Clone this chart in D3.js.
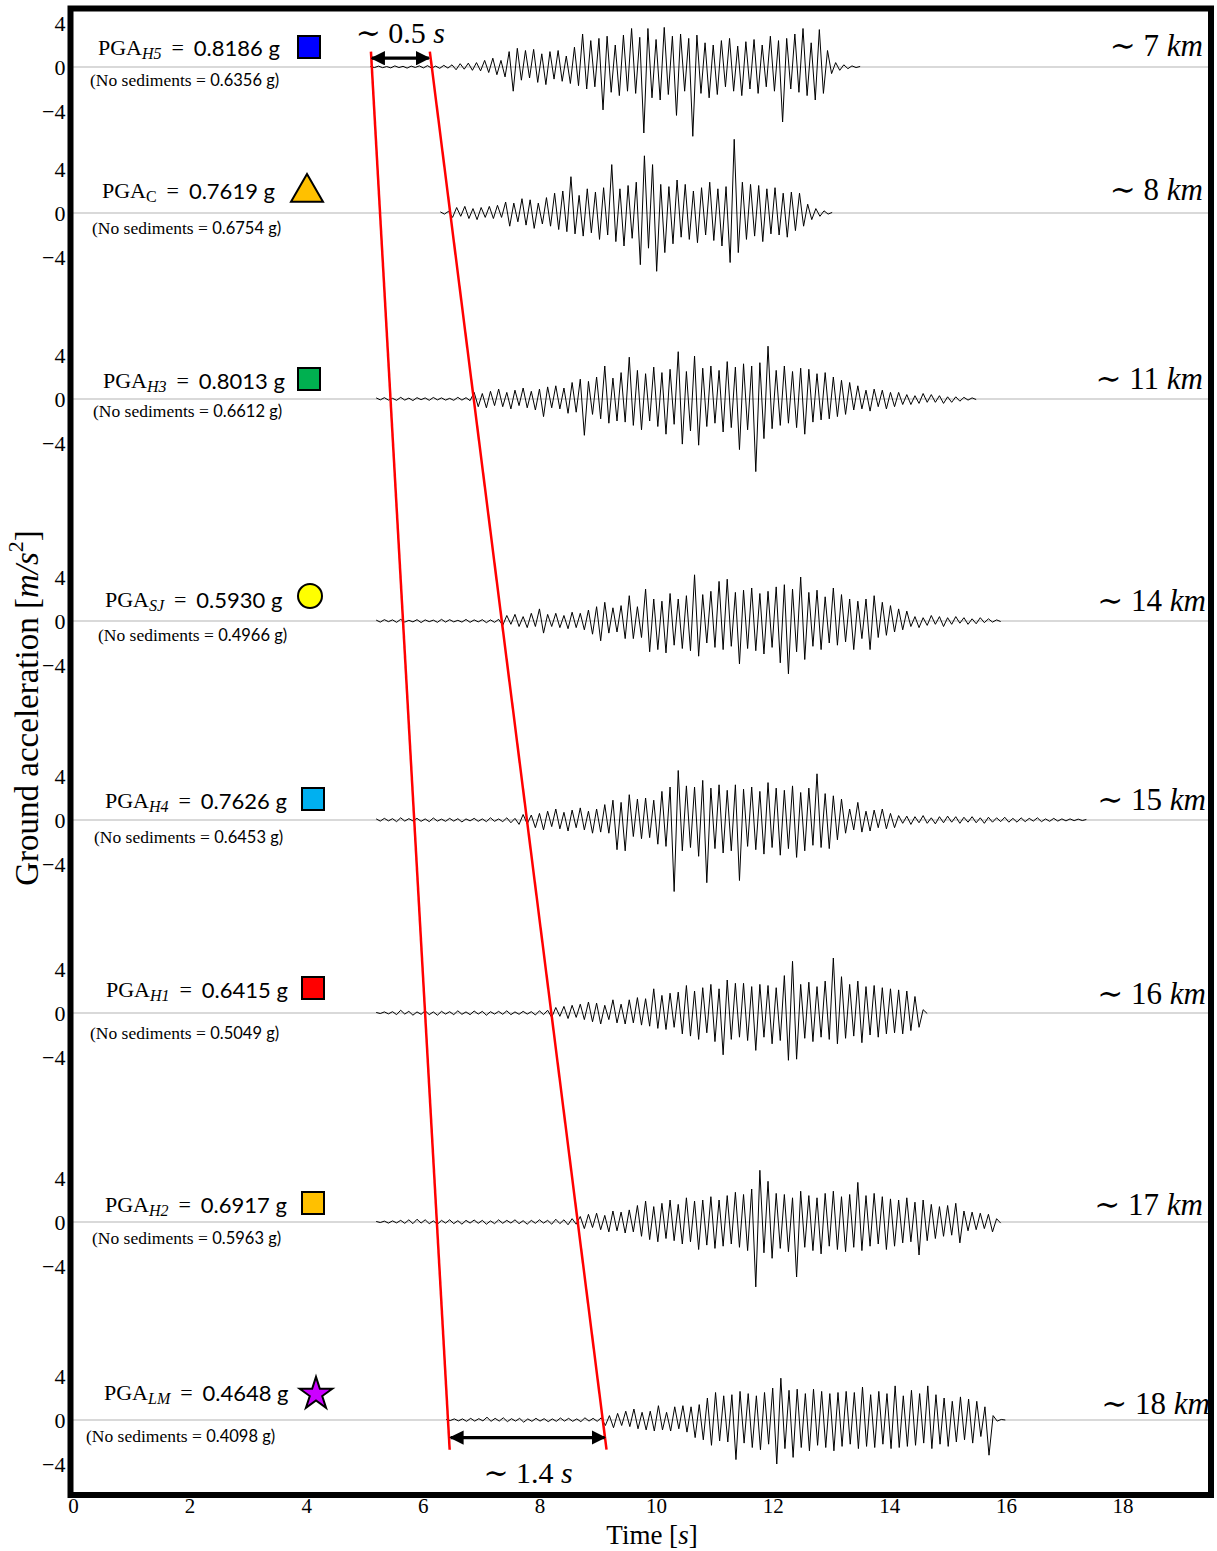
<!DOCTYPE html>
<html>
<head>
<meta charset="utf-8">
<script src="https://cdn.jsdelivr.net/npm/d3@7"></script>
<style>
  body { margin: 0; background: #fff; }
</style>
</head>
<body>
<svg width="1217" height="1551"></svg>
<script>
// ---- data ----
var stations = ["H5", "C", "H3", "SJ", "H4", "H1", "H2", "LM"];
var pga = ["0.8186", "0.7619", "0.8013", "0.5930", "0.7626", "0.6415", "0.6917", "0.4648"];
var pgaNoSed = ["0.6356", "0.6754", "0.6612", "0.4966", "0.6453", "0.5049", "0.5963", "0.4098"];
var distances = ["7", "8", "11", "14", "15", "16", "17", "18"];
var markerShapes = ["square", "triangle", "square", "circle", "square", "square", "square", "star"];
var markerColors = ["#0000ff", "#ffc000", "#00b050", "#ffff00", "#00b0f0", "#ff0000", "#ffc000", "#cc00ff"];
var timeTicks = [0, 2, 4, 6, 8, 10, 12, 14, 16, 18];
var accTicks = [-4, 0, 4];

// accelerograms [m/s^2], sampled every dt from each start time
var dt = 0.07;
var traceStart = [5.1, 6.3, 5.2, 5.2, 5.2, 5.2, 5.2, 6.4];

var accH5 = [0.05,-0.05,0.08,-0.06,0.04,-0.08,0.1,-0.05,0.06,-0.1,0.08,-0.04,0.1,-0.08,0.12,-0.1,0.08,-0.12,0.15,-0.1,
  0.2,-0.25,0.3,-0.2,0.35,-0.3,0.4,-0.35,
  0.6,-0.5,0.8,-0.7,0.6,-0.9,
  1.4,-2.2,1.7,-1.2,1.5,-1.0,1.6,-1.4,1.2,-1.6,1.4,-1.1,1.5,-1.3,1.0,-1.5,1.8,
  -1.7,3.0,-2.0,2.4,-1.8,2.6,-3.9,2.8,-2.3,2.0,-2.6,2.9,-2.2,3.5,-2.4,2.7,-6.0,3.5,-2.8,2.5,
  -3.0,3.6,-2.5,2.8,-4.4,3.0,-2.2,2.6,-6.3,2.9,-2.4,2.2,-2.8,2.0,-2.5,2.4,-1.8,2.6,-2.2,1.9,
  -2.6,2.3,-2.0,2.5,-2.4,2.0,-1.8,2.8,-2.2,2.4,-5.0,2.6,-2.0,3.0,-2.3,3.5,-2.6,2.2,-3.0,3.4,-2.4,1.5,
  -0.6,0.4,-0.3,0.2,-0.15,0.1,-0.05,0.05];

var accC = [0.1,-0.1,0.15,
  -0.4,0.5,-0.3,0.6,-0.5,0.4,-0.6,0.5,-0.4,0.6,-0.5,0.7,-0.4,
  1.0,-1.2,0.9,-0.8,1.3,-1.1,1.2,-1.4,0.9,-1.0,1.4,-1.2,
  1.8,-1.5,2.0,-1.7,3.3,-1.9,1.6,-2.1,2.2,-1.8,1.9,-2.4,2.3,
  -2.0,4.4,-2.6,2.2,-3.0,2.5,-2.3,2.8,-4.7,5.2,-3.2,4.4,-5.3,2.6,-3.6,2.4,-2.8,3.0,-2.2,2.6,
  -2.4,2.0,-2.7,2.3,-2.0,2.8,-2.5,2.2,-3.0,2.4,-4.5,6.7,-3.6,2.8,-2.4,2.6,-2.1,2.5,-2.6,2.2,
  -1.9,2.3,-2.0,1.8,-2.2,1.9,-1.6,1.8,
  -1.2,0.8,-0.6,0.4,-0.3,0.2,-0.1,0.05];

var accH3 = [0.1,-0.08,0.12,-0.1,0.06,-0.12,0.15,-0.1,0.08,-0.14,0.12,-0.06,0.1,-0.12,0.14,-0.08,0.1,-0.1,0.06,-0.12,0.15,-0.1,0.12,-0.15,
  0.6,-0.7,0.5,-0.8,0.7,-0.6,0.9,-0.7,0.6,-0.9,0.8,-0.6,1.0,-0.8,0.7,-1.0,0.9,-1.6,1.1,-0.8,1.2,-0.9,1.0,
  -1.3,1.5,-1.2,1.8,-3.3,1.6,-1.4,2.0,-1.8,3.0,-2.2,1.9,-2.0,2.4,
  -2.1,3.8,-2.4,2.6,-2.8,2.3,-2.0,2.9,-2.5,2.4,-3.2,2.7,-2.3,4.3,-4.1,2.5,-2.9,3.9,-4.2,2.8,
  -2.5,3.0,-2.2,2.6,-3.0,3.4,-2.6,2.9,-4.6,3.2,-2.8,3.0,-6.6,3.3,-3.6,4.8,-2.7,2.6,-2.4,3.0,
  -2.2,2.5,-2.6,2.8,-3.2,2.7,-2.1,2.3,-1.9,2.4,-1.8,2.0,-1.6,1.7,-1.4,1.5,
  -1.0,1.2,-0.9,0.8,-1.1,0.9,-0.7,0.8,-0.9,0.6,-0.7,0.6,
  -0.5,0.4,-0.5,0.3,-0.4,0.5,-0.3,0.4,-0.3,0.3,-0.4,0.2,-0.3,0.2,-0.2,0.15,-0.1,0.1,-0.05];

var accSJ = [0.08,-0.1,0.12,-0.06,0.1,-0.12,0.15,-0.1,0.06,-0.08,0.12,-0.14,0.1,-0.06,0.08,-0.12,0.15,-0.1,0.12,-0.08,0.06,-0.1,0.14,-0.12,0.1,-0.08,0.12,-0.15,0.1,-0.12,0.15,
  -0.4,0.5,-0.3,0.6,-0.5,0.4,-0.6,0.7,-0.5,1.1,-1.1,0.6,-0.5,0.7,-0.6,0.5,-0.7,0.8,-0.6,0.7,-0.8,
  1.0,-1.2,1.3,-1.8,1.7,-1.1,1.2,-1.0,1.4,-1.6,2.3,-1.6,1.3,-1.5,
  2.9,-2.8,2.0,-2.6,1.8,-2.9,2.5,-2.2,2.0,-2.5,2.3,-2.7,4.2,-3.2,2.4,-2.0,2.7,-2.4,3.6,-2.6,
  3.8,-2.3,2.6,-3.9,2.8,-2.5,3.0,-2.7,2.5,-3.0,2.7,-2.4,3.1,-3.8,3.3,-4.8,2.9,-2.8,4.0,-3.5,
  2.6,-2.3,2.8,-2.6,2.2,-2.0,3.0,-2.2,2.4,-1.9,2.0,-2.6,1.8,-1.6,2.0,-2.6,2.3,-1.5,1.7,-1.3,1.4,
  -1.0,1.1,-0.8,0.9,
  -0.5,0.4,-0.6,0.3,-0.4,0.5,-0.3,0.4,-0.5,0.3,-0.3,0.4,-0.2,0.3,-0.3,0.2,-0.25,0.3,-0.15,0.2,-0.1,0.1,-0.05];

var accH4 = [0.1,-0.1,0.15,-0.08,0.12,-0.15,0.2,-0.1,0.12,-0.08,0.15,-0.12,0.1,-0.15,0.18,-0.1,0.08,-0.12,0.15,-0.1,0.12,-0.18,0.1,-0.08,0.15,-0.12,0.1,-0.15,0.2,-0.12,0.1,-0.15,0.2,-0.25,0.15,
  -0.4,0.5,-0.35,0.45,
  -0.7,0.6,-0.9,0.8,-0.6,1.0,-0.8,0.7,-1.0,0.9,-0.7,1.1,-0.9,0.8,-1.2,1.0,-1.1,
  1.4,-1.2,1.8,-2.7,1.6,-2.8,2.3,-1.5,1.9,-1.7,2.0,-1.6,1.8,-2.2,
  2.6,-2.4,3.0,-6.5,4.5,-2.8,3.1,-2.5,3.0,-3.3,3.6,-5.7,2.9,-2.6,3.2,-3.0,2.7,-2.8,3.2,-5.5,
  2.8,-2.4,3.0,-2.7,2.6,-3.1,3.4,-2.5,2.9,-3.2,2.7,-2.6,3.1,-3.4,2.5,-2.8,2.9,-2.3,4.2,-2.5,
  2.4,-2.6,2.2,-1.8,1.9,
  -1.2,1.0,-0.9,1.6,-1.1,0.8,-1.0,0.9,-0.7,1.0,-0.8,0.6,-0.7,
  0.4,-0.3,0.35,-0.4,0.3,-0.25,0.4,-0.3,0.2,-0.35,0.3,-0.25,0.35,-0.2,0.3,-0.3,0.25,-0.2,0.3,-0.25,
  0.2,-0.3,0.25,-0.2,0.2,-0.15,0.25,-0.2,0.15,-0.2,0.2,-0.15,0.15,-0.1,0.2,-0.15,0.1,-0.12,0.15,-0.1,
  0.1,-0.08,0.1,-0.06,0.08,-0.05,0.05];

var accH1 = [0.05,-0.05,0.1,-0.08,0.12,-0.15,0.25,-0.1,0.15,-0.2,0.1,-0.12,0.2,-0.15,0.1,-0.2,0.15,-0.1,0.12,-0.15,
  0.2,-0.12,0.1,-0.15,0.18,-0.1,0.15,-0.2,0.12,-0.1,0.15,-0.12,0.2,-0.15,0.1,-0.12,0.15,-0.1,0.12,-0.18,0.2,-0.15,0.25,
  -0.4,0.5,-0.3,0.6,-0.5,0.7,-0.4,0.8,-0.6,1.0,-0.8,0.9,-1.0,0.7,-0.6,1.2,-0.9,0.8,
  -1.0,1.2,-0.9,1.4,-1.1,1.3,-1.2,2.2,-1.4,1.6,-1.5,1.8,-1.3,1.9,
  -1.9,2.5,-2.1,2.0,-2.4,2.3,-1.8,2.6,-2.6,2.2,-3.8,3.0,-2.4,2.7,-2.2,2.7,-2.5,2.4,-3.4,2.6,
  -2.2,2.5,-2.8,2.3,-2.5,3.4,-4.3,4.7,-4.2,2.6,-2.3,2.8,-2.6,2.4,-2.2,2.9,-2.4,5.0,-2.8,3.3,
  -2.3,2.6,-2.1,2.9,-2.7,2.4,-2.0,2.5,-2.2,2.3,-1.9,2.2,-1.8,2.1,-1.9,2.0,-1.6,1.5,
  -1.3,0.3,-0.05];

var accH2 = [0.05,-0.05,0.08,-0.1,0.1,-0.08,0.15,-0.12,0.2,-0.15,0.25,-0.1,0.2,-0.15,0.1,-0.2,0.15,-0.1,0.2,-0.15,
  0.12,-0.2,0.15,-0.1,0.18,-0.12,0.15,-0.2,0.1,-0.15,0.2,-0.12,0.15,-0.1,0.2,-0.15,0.12,-0.2,0.15,-0.12,
  0.2,-0.1,0.15,-0.2,0.25,-0.15,0.2,-0.25,0.3,-0.2,
  0.5,-0.6,0.7,-0.5,0.8,-0.7,0.6,-0.9,1.0,-0.8,0.9,-1.0,1.1,-0.9,
  1.5,-1.3,1.9,-1.6,1.4,-1.8,1.7,-1.5,2.0,-1.7,1.6,-2.0,2.2,-1.8,1.9,-2.5,2.0,-2.1,
  2.3,-2.4,2.0,-2.2,2.4,-2.0,2.7,-2.3,2.5,-2.6,3.0,-5.9,4.7,-2.8,3.7,-3.3,2.6,-2.4,2.5,-2.7,
  2.2,-5.0,2.8,-2.3,2.4,-2.6,2.2,-2.9,2.6,-2.2,2.8,-2.5,2.3,-2.7,2.5,-2.3,3.6,-2.6,2.4,-2.2,
  2.6,-2.0,2.3,-2.5,2.1,-2.2,2.0,-1.9,2.2,-1.8,1.8,-3.0,2.0,-1.7,
  1.6,-1.5,1.4,-1.3,1.5,-1.2,1.7,-1.9,1.0,-0.8,0.9,-0.7,0.8,-0.6,0.7,
  -0.9,0.3,-0.1];

var accLM = [0.05,-0.05,0.1,-0.08,0.1,-0.12,0.15,-0.1,0.12,-0.08,0.25,-0.12,0.15,-0.1,0.2,-0.15,0.12,-0.1,0.15,-0.2,
  0.1,-0.12,0.15,-0.1,0.12,-0.15,0.1,-0.12,0.18,-0.1,0.15,-0.12,0.1,-0.15,0.2,-0.1,0.15,-0.12,0.2,
  -0.5,0.4,-0.7,0.6,-0.5,0.8,-0.6,1.0,-0.8,0.7,-0.9,0.8,-1.0,1.3,-0.9,0.7,-1.0,1.2,-0.8,1.3,-1.1,1.2,
  -1.6,1.4,-1.8,2.0,-2.3,2.5,-1.9,2.2,-2.0,2.3,-3.6,2.6,-2.1,2.4,-2.5,2.2,-2.7,2.5,-2.2,2.9,
  -4.0,3.8,-2.6,2.7,-3.4,2.8,-2.5,2.4,-2.8,2.8,-2.3,2.6,-2.5,2.4,-2.8,2.5,-2.4,2.6,-2.2,2.5,
  -2.6,3.0,-2.4,2.3,-2.5,2.6,-2.2,2.4,-2.6,3.1,-2.5,2.2,-2.4,2.7,-2.3,2.4,-2.1,3.1,-2.6,2.3,
  -2.2,2.0,-2.4,1.7,-2.0,2.1,-1.8,1.9,-2.1,1.7,-1.5,1.2,
  -3.2,0.4,-0.1,0.05,0];

var traces = [accH5, accC, accH3, accSJ, accH4, accH1, accH2, accLM];

// ---- layout ----
var svg = d3.select("svg"),
  width = +svg.attr("width"),
  height = +svg.attr("height");

var serif = "'Liberation Serif', 'DejaVu Serif', serif";
var sans = "Lato, 'Open Sans', sans-serif";

var frame = { left: 70.5, top: 8.5, right: 1211, bottom: 1495 };
var rowZero = [67, 213, 399, 621, 820, 1013, 1222, 1420];
var labelX = [98, 102, 103, 105, 105, 106, 105, 104];
var labelDy = [-20, -23, -19, -22, -20, -24, -18, -28];
var noSedX = [90, 92, 93, 98, 94, 90, 92, 86];
var noSedDy = [13, 15, 12, 14, 17, 20, 16, 16];
var markerX = [309, 307, 309, 310, 313, 313, 313, 316];
var markerDy = [-20, -20.5, -20, -25, -21, -25, -19, -26];
var distRight = [1203, 1203, 1203, 1206, 1206, 1206, 1203, 1210];
var distDy = [-22, -24, -21, -21, -21, -20, -18, -17];

var x = d3.scaleLinear().domain([0, 19.5]).range([73, 1210]);

var rowScales = rowZero.map(function (z) {
  return d3.scaleLinear().domain([-4, 4]).range([z + 44, z - 44]);
});

var defs = svg.append("defs");
defs.append("marker")
  .attr("id", "head")
  .attr("viewBox", "0 0 10 10")
  .attr("refX", 9)
  .attr("refY", 5)
  .attr("markerWidth", 4.5)
  .attr("markerHeight", 4.5)
  .attr("orient", "auto-start-reverse")
  .append("path")
  .attr("d", "M0,0 L10,5 L0,10 z")
  .attr("fill", "#000");

// zero lines
svg.append("g")
  .selectAll("line")
  .data(rowZero)
  .enter()
  .append("line")
  .attr("x1", x(0))
  .attr("x2", frame.right)
  .attr("y1", function (d) { return d; })
  .attr("y2", function (d) { return d; })
  .attr("stroke", "#b4b4b4")
  .attr("stroke-width", 1.2);

// waveforms
var wave = svg.append("g").attr("class", "waves");
traces.forEach(function (acc, k) {
  var line = d3.line()
    .x(function (d, i) { return x(traceStart[k] + i * dt); })
    .y(function (d) { return rowScales[k](d); });
  wave.append("path")
    .datum(acc)
    .attr("d", line)
    .attr("fill", "none")
    .attr("stroke", "#000")
    .attr("stroke-width", 1)
    .attr("stroke-linejoin", "round");
});

// y tick labels for each row
rowScales.forEach(function (s) {
  var ax = svg.append("g")
    .attr("transform", "translate(" + (frame.left - 3) + ",0)")
    .call(d3.axisLeft(s).tickValues(accTicks).tickSize(0).tickPadding(2));
  ax.select(".domain").remove();
  ax.selectAll("text")
    .attr("font-family", serif)
    .attr("font-size", 22)
    .attr("fill", "#000");
});

// PGA labels
var labels = svg.append("g");
stations.forEach(function (st, k) {
  var t = labels.append("text")
    .attr("x", labelX[k])
    .attr("y", rowZero[k] + labelDy[k])
    .attr("dominant-baseline", "central")
    .attr("font-size", 22)
    .attr("fill", "#000");
  t.append("tspan").attr("font-family", serif).text("PGA");
  t.append("tspan")
    .attr("font-family", serif)
    .attr("font-style", st === "C" ? "normal" : "italic")
    .attr("font-size", 16)
    .attr("dy", 6)
    .text(st);
  t.append("tspan").attr("font-family", serif).attr("dy", -6).text(" \u2009=\u2009 ");
  t.append("tspan").attr("font-family", sans).text(pga[k] + " g");

  var n = labels.append("text")
    .attr("x", noSedX[k])
    .attr("y", rowZero[k] + noSedDy[k])
    .attr("dominant-baseline", "central")
    .attr("font-size", 17.5)
    .attr("fill", "#000");
  n.append("tspan").attr("font-family", serif).text("(No sediments = ");
  n.append("tspan").attr("font-family", sans).attr("font-size", 16.5).text(pgaNoSed[k] + " g)");

  // station marker
  var symType = {
    square: d3.symbolSquare,
    triangle: d3.symbolTriangle,
    circle: d3.symbolCircle,
    star: d3.symbolStar
  }[markerShapes[k]];
  var symSize = { square: 484, triangle: 443, circle: 452, star: 330 }[markerShapes[k]];
  labels.append("path")
    .attr("d", d3.symbol(symType, symSize)())
    .attr("transform", "translate(" + markerX[k] + "," + (rowZero[k] + markerDy[k]) + ")")
    .attr("fill", markerColors[k])
    .attr("stroke", "#000")
    .attr("stroke-width", 2);

  // distance
  var dtx = labels.append("text")
    .attr("x", distRight[k])
    .attr("y", rowZero[k] + distDy[k])
    .attr("text-anchor", "end")
    .attr("dominant-baseline", "central")
    .attr("font-family", serif)
    .attr("font-size", 31)
    .attr("fill", "#000");
  dtx.append("tspan").text("\u223C " + distances[k] + " ");
  dtx.append("tspan").attr("font-style", "italic").text("km");
});

// red delay lines (time at top row, time at bottom row)
var delayLines = [
  { t0: 5.11, t1: 6.46 },
  { t0: 6.12, t1: 9.15 }
];
svg.append("g")
  .selectAll("line")
  .data(delayLines)
  .enter()
  .append("line")
  .attr("x1", function (d) { return x(d.t0); })
  .attr("y1", rowScales[0](1.4))
  .attr("x2", function (d) { return x(d.t1); })
  .attr("y2", rowScales[7](-2.7))
  .attr("stroke", "#ff0000")
  .attr("stroke-width", 2.5);

// arrows
svg.append("line")
  .attr("x1", x(5.11) + 1).attr("x2", x(6.12) - 1)
  .attr("y1", rowScales[0](0.8)).attr("y2", rowScales[0](0.8))
  .attr("stroke", "#000").attr("stroke-width", 3.2)
  .attr("marker-start", "url(#head)").attr("marker-end", "url(#head)");
svg.append("line")
  .attr("x1", x(6.46) + 1).attr("x2", x(9.15) - 2)
  .attr("y1", rowScales[7](-1.6)).attr("y2", rowScales[7](-1.6))
  .attr("stroke", "#000").attr("stroke-width", 3.2)
  .attr("marker-start", "url(#head)").attr("marker-end", "url(#head)");

var a1 = svg.append("text")
  .attr("x", (x(5.11) + x(6.12)) / 2)
  .attr("y", 32)
  .attr("text-anchor", "middle")
  .attr("dominant-baseline", "central")
  .attr("font-family", serif).attr("font-size", 30).attr("fill", "#000");
a1.append("tspan").text("\u223C 0.5 ");
a1.append("tspan").attr("font-style", "italic").text("s");

var a2 = svg.append("text")
  .attr("x", (x(6.46) + x(9.15)) / 2)
  .attr("y", 1472)
  .attr("text-anchor", "middle")
  .attr("dominant-baseline", "central")
  .attr("font-family", serif).attr("font-size", 30).attr("fill", "#000");
a2.append("tspan").text("\u223C 1.4 ");
a2.append("tspan").attr("font-style", "italic").text("s");

// frame
svg.append("rect")
  .attr("x", frame.left)
  .attr("y", frame.top)
  .attr("width", frame.right - frame.left)
  .attr("height", frame.bottom - frame.top)
  .attr("fill", "none")
  .attr("stroke", "#000")
  .attr("stroke-width", 6);

// x axis
var xa = svg.append("g")
  .attr("transform", "translate(0," + (frame.bottom + 1) + ")")
  .call(d3.axisBottom(x).tickValues(timeTicks).tickSize(0).tickPadding(2));
xa.select(".domain").remove();
xa.selectAll("text")
  .attr("font-family", serif)
  .attr("font-size", 21)
  .attr("fill", "#000");

var xl = svg.append("text")
  .attr("x", 652)
  .attr("y", 1535)
  .attr("text-anchor", "middle")
  .attr("dominant-baseline", "central")
  .attr("font-family", serif).attr("font-size", 27).attr("fill", "#000");
xl.append("tspan").text("Time [");
xl.append("tspan").attr("font-style", "italic").text("s");
xl.append("tspan").text("]");

var yl = svg.append("text")
  .attr("transform", "translate(27,708) rotate(-90)")
  .attr("text-anchor", "middle")
  .attr("dominant-baseline", "central")
  .attr("font-family", serif).attr("font-size", 33).attr("fill", "#000");
yl.append("tspan").text("Ground acceleration [");
yl.append("tspan").attr("font-style", "italic").text("m/s");
yl.append("tspan").attr("font-size", 22).attr("dy", -12).text("2");
yl.append("tspan").attr("dy", 12).text("]");
</script>
</body>
</html>
